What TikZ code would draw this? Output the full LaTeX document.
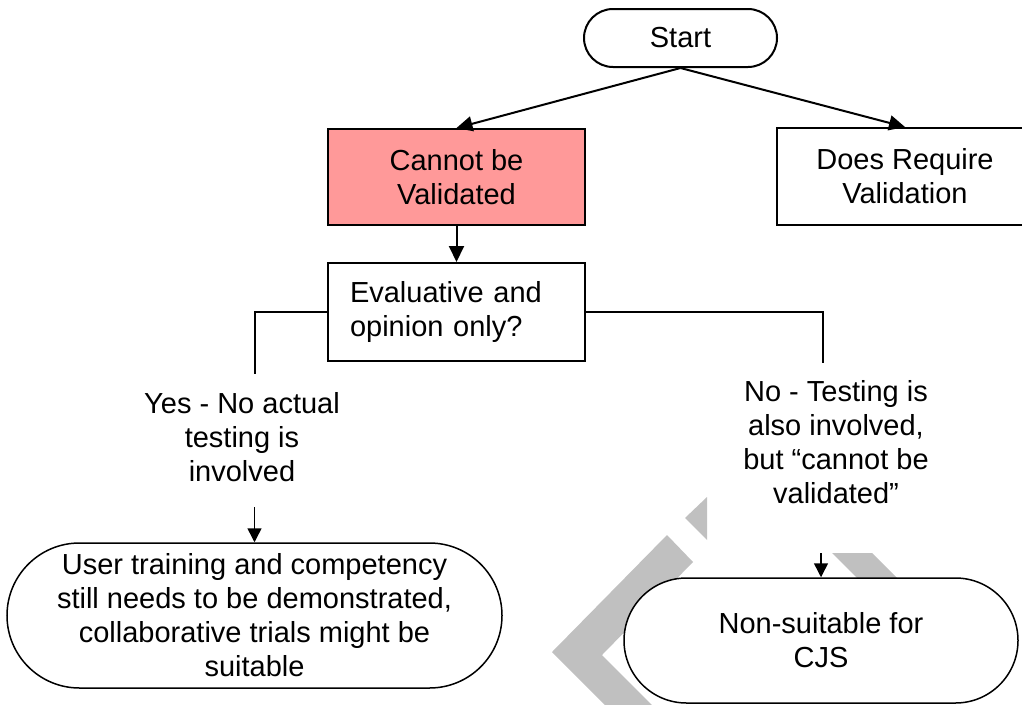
\documentclass[tikz,border=0pt]{standalone}
\usepackage{fontspec}
\setmainfont{Liberation Sans}
\usepackage{tikz}
\usetikzlibrary{arrows.meta}

\definecolor{cannotred}{RGB}{255,153,153}
\definecolor{markgrey}{RGB}{192,192,192}

\begin{document}
\begin{tikzpicture}[x=1pt, y=-1pt,
    font=\fontsize{29}{34}\selectfont,
    box/.style={draw, line width=2pt, fill=white, align=center, inner sep=0pt},
    terminal/.style={draw, line width=1.5pt, fill=white, align=center, inner sep=0pt,
      rounded corners=#1, minimum height=2*#1},
    arrow/.style={line width=2pt, -{Triangle[length=16pt,width=15pt]}},
    smallarrow/.style={line width=1.5pt, -{Triangle[length=14pt,width=14pt]}},
    branch/.style={line width=2pt}]

  \useasboundingbox (0,0) rectangle (1022,704);
  \clip (0,0) rectangle (1022,704);

  % grey watermark pieces behind the boxes
  \fill[markgrey] (707,497) -- (685,518) -- (707,540) -- cycle;
  \fill[markgrey] (667,535) -- (552,652) -- (606,706) -- (653,706) -- (602,655) -- (693,562) -- cycle;
  \fill[markgrey] (832,553) -- (872,553) -- (910,591) -- (870,591) -- cycle;

  % boxes
  \node[terminal=29pt, minimum width=193pt, line width=2pt] (start) at (680.5,38) {Start};
  \node[box, fill=cannotred, minimum width=257pt, minimum height=96pt] (cannot) at (456.5,177) {Cannot be\\Validated};
  \node[box, minimum width=256pt, minimum height=97pt] (does) at (905,176.5) {Does Require\\Validation};
  \node[box, align=left, text width=213pt, inner xsep=22pt, minimum height=98pt] (eval) at (456.5,312) {Evaluative and\\opinion only?};
  \node[terminal=72.5pt, minimum width=495pt] (user) at (254.5,615.5) {User training and competency\\still needs to be demonstrated,\\collaborative trials might be\\suitable};
  \node[terminal=62.5pt, minimum width=394pt] (nonsuit) at (821,640.5) {Non-suitable for\\CJS};

  % answers
  \node[align=center, inner sep=0pt] (yes) at (242,437.5) {Yes - No actual\\testing is\\involved};
  \node[align=center, inner sep=0pt] (no) at (836,442.5) {No - Testing is\\also involved,\\but “cannot be\\validated”};

  \coordinate (yesend) at (254.5,374);
  \coordinate (yesfoot) at (254.5,507);
  \coordinate (noend) at (823,363);
  \coordinate (nofoot) at (821,553);

  % connectors
  \draw[arrow] (start.south) -- (cannot.north);
  \draw[arrow] (start.south) -- (does.north);
  \draw[arrow] (cannot.south) -- (eval.north);
  \draw[branch] (eval.west) -| (yesend);
  \draw[branch] (eval.east) -| (noend);
  \draw[smallarrow] (yesfoot) -- (user.north);
  \draw[smallarrow] (nofoot) -- (nonsuit.north);
\end{tikzpicture}
\end{document}
